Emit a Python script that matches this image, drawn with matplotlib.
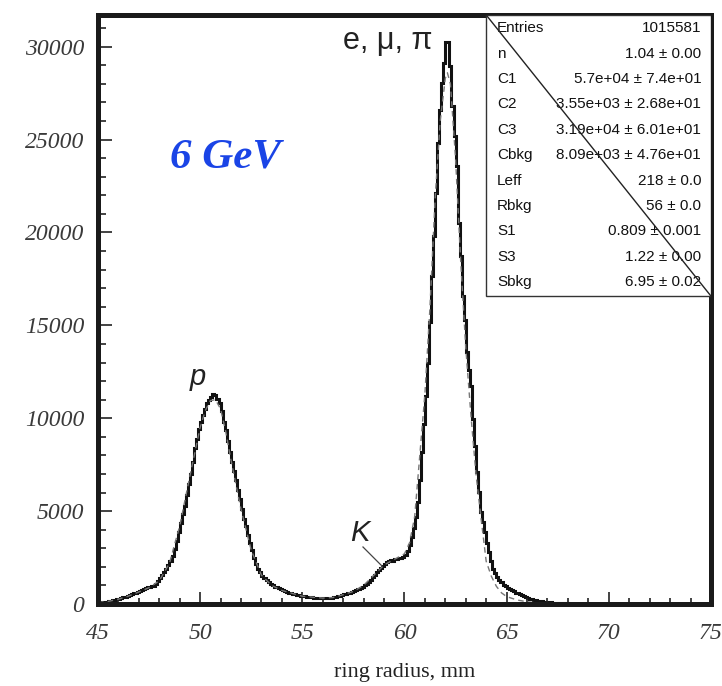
import numpy as np
import matplotlib
matplotlib.use("Agg")
import matplotlib.pyplot as plt
from matplotlib.patches import Rectangle
from matplotlib.ticker import MultipleLocator

# histogram: 0.1 mm bins starting at 45.0 mm (counts per bin)
bin_start = 45.0
bin_width = 0.1
counts = [
    90, 100, 110, 120, 135, 150, 170, 200, 230, 260,              # 45
    290, 320, 360, 400, 440, 480, 520, 570, 620, 670,             # 46
    720, 770, 820, 870, 900, 930, 960, 990, 1080, 1230,           # 47
    1400, 1560, 1700, 1880, 2100, 2330, 2600, 2950, 3400, 3900,   # 48
    4350, 4850, 5300, 5850, 6450, 7000, 7650, 8400, 8900, 9400,   # 49
    9800, 10150, 10500, 10800, 11000, 11150, 11300, 11250, 11050, 10800,  # 50
    10400, 9800, 9350, 8800, 8200, 7650, 7150, 6700, 6150, 5650,  # 51
    5100, 4600, 4200, 3700, 3300, 2900, 2500, 2150, 1900, 1700,   # 52
    1530, 1400, 1300, 1180, 1080, 1000, 940, 890, 840, 790,       # 53
    740, 690, 650, 610, 580, 550, 520, 500, 470, 450,             # 54
    430, 410, 390, 375, 360, 350, 340, 330, 325, 320,             # 55
    320, 320, 325, 330, 340, 360, 380, 410, 450, 490,             # 56
    520, 550, 580, 610, 640, 680, 730, 790, 850, 930,             # 57
    1000, 1100, 1200, 1320, 1450, 1580, 1700, 1820, 1940, 2050,   # 58
    2150, 2250, 2320, 2380, 2330, 2450, 2420, 2460, 2500, 2550,   # 59
    2650, 2850, 3200, 3600, 4100, 4700, 5500, 6700, 8200, 9700,   # 60
    11200, 13000, 15160, 17650, 19800, 22150, 24840, 26610, 28050, 29120,  # 61
    30230, 30230, 28940, 26790, 25180, 23560, 20530, 18720, 16570, 15300,  # 62
    13550, 12600, 11740, 9950, 8510, 7100, 6020, 4950, 4400, 3870,  # 63
    3300, 2800, 2300, 1880, 1650, 1450, 1300, 1180, 1050, 950,    # 64
    870, 810, 740, 680, 620, 570, 520, 470, 420, 370,             # 65
    320, 290, 260, 230, 200, 180, 160, 140, 125, 110,             # 66
    95, 85, 75, 65, 55, 50, 45, 40, 35, 30,                       # 67
    28, 25, 22, 20, 18, 16, 14, 12, 10, 8,                        # 68
]

# fit curve (dashed)
fit_x = [45, 45.5, 46, 46.5, 47, 47.5, 48, 48.5, 49, 49.5, 49.75, 50, 50.25,
         50.5, 50.75, 51, 51.25, 51.5, 52, 52.5, 53, 53.5, 54, 55, 56, 56.5,
         57, 57.5, 58, 58.5, 59, 59.5, 60, 60.25, 60.5, 60.75, 61, 61.25,
         61.5, 61.75, 62, 62.1, 62.25, 62.5, 62.75, 63, 63.25, 63.5, 63.75,
         64, 64.25, 64.5, 64.75, 65, 65.5, 66, 66.5, 67, 68]
fit_y = [80, 140, 260, 430, 650, 880, 1250, 2200, 4200, 6900, 8200, 9500, 10400,
         10950, 11000, 10500, 9300, 7800, 5100, 2900, 1550, 1000, 730, 420, 320, 350,
         500, 680, 1000, 1550, 2100, 2400, 2700, 3300, 4700, 8000, 11300, 16000,
         21800, 26000, 28300, 28600, 28000, 24000, 18500, 13800, 10200, 7000, 4600,
         2300, 1500, 950, 600, 400, 220, 120, 60, 25, 0]

stat_names = ["Entries", "n", "C1", "C2", "C3", "Cbkg", "Leff", "Rbkg", "S1", "S3", "Sbkg"]
stat_values = ["1015581", "1.04 ± 0.00", "5.7e+04 ± 7.4e+01", "3.55e+03 ± 2.68e+01",
               "3.19e+04 ± 6.01e+01", "8.09e+03 ± 4.76e+01", "218 ± 0.0", "56 ± 0.0",
               "0.809 ± 0.001", "1.22 ± 0.00", "6.95 ± 0.02"]

edges = bin_start + bin_width * np.arange(len(counts) + 1)

fig = plt.figure(figsize=(7.22, 6.86), dpi=100)
ax = fig.add_axes([0.1357, 0.1195, 0.849, 0.859])

ax.stairs(counts, edges, color="#111111", linewidth=2.2, baseline=None)
ax.plot(fit_x, fit_y, color="#777777", linewidth=1.0, linestyle=(0, (4, 3)))

ax.set_xlim(45, 75)
ax.set_ylim(0, 31720)

for s in ax.spines.values():
    s.set_linewidth(3.6)
    s.set_color("#1a1a1a")

ax.xaxis.set_major_locator(MultipleLocator(5))
ax.xaxis.set_minor_locator(MultipleLocator(1))
ax.yaxis.set_major_locator(MultipleLocator(5000))
ax.yaxis.set_minor_locator(MultipleLocator(1000))
ax.tick_params(which="both", direction="in", color="#222222", width=1.2)
ax.tick_params(axis="x", which="major", length=9, pad=14)
ax.tick_params(axis="x", which="minor", length=4)
ax.tick_params(axis="y", which="major", length=10, pad=10)
ax.tick_params(axis="y", which="minor", length=6)

for lab in ax.get_xticklabels() + ax.get_yticklabels():
    lab.set_fontfamily("Liberation Serif")
    lab.set_fontstyle("italic")
    lab.set_fontsize(17)
    lab.set_color("#3a3a3a")

ax.set_xlabel("ring radius, mm", family="Liberation Serif", fontsize=16,
              color="#222222", labelpad=13)

# labels on the plot
ax.text(0.118, 0.757, "6 GeV", transform=ax.transAxes, family="Liberation Serif",
        fontsize=31, fontweight="bold", fontstyle="italic", color="#1a44e6",
        va="center")
ax.text(0.400, 0.955, "e, μ, π", transform=ax.transAxes, family="Liberation Sans",
        fontsize=22, color="#222222", va="center")
ax.text(0.150, 0.385, "p", transform=ax.transAxes, family="Liberation Sans",
        fontsize=21, fontstyle="italic", color="#222222", va="center")
ax.text(57.35, 3800, "K", family="Liberation Sans", fontsize=21,
        fontstyle="italic", color="#222222", va="center")
ax.plot([57.97, 58.9], [3070, 2045], color="#444444", linewidth=0.9)

# stats box
bx0, by0 = 0.633, 0.5226
ax.add_patch(Rectangle((bx0, by0), 1 - bx0, 1 - by0, transform=ax.transAxes,
                       facecolor="white", edgecolor="#333333", linewidth=1.0, zorder=5))
ax.plot([bx0, 1.0], [1.0, by0], transform=ax.transAxes, color="#222222",
        linewidth=1.0, zorder=7)
for i, (nm, val) in enumerate(zip(stat_names, stat_values)):
    yy = 0.977 - i * 0.0431
    ax.text(0.651, yy, nm, transform=ax.transAxes, family="Liberation Sans",
            fontsize=11, va="center", ha="left", color="#111111", zorder=6)
    ax.text(0.984, yy, val, transform=ax.transAxes, family="Liberation Sans",
            fontsize=11, va="center", ha="right", color="#111111", zorder=6)

fig.savefig("out.png", dpi=100)
plt.close(fig)
